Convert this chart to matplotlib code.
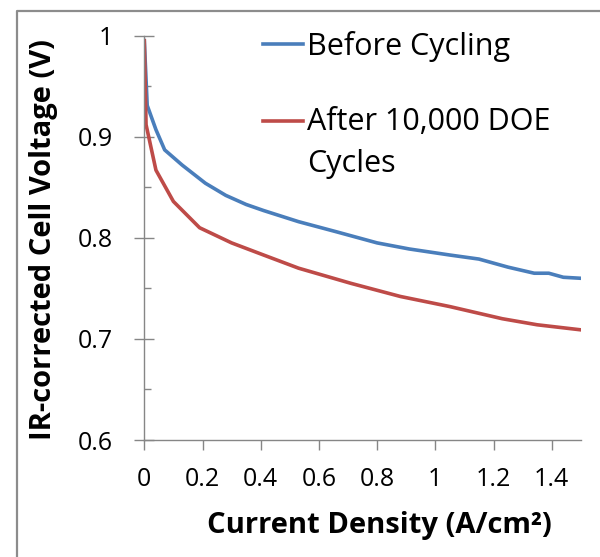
import matplotlib
matplotlib.use("Agg")
import matplotlib.pyplot as plt
from matplotlib.lines import Line2D
from matplotlib.ticker import MultipleLocator

# polarisation curves, current density in A/cm2, voltage in V
before_j = [0, 0.01, 0.04, 0.07, 0.13, 0.21, 0.28, 0.35, 0.41, 0.53, 0.66,
            0.80, 0.91, 1.05, 1.15, 1.25, 1.34, 1.39, 1.44, 1.5]
before_v = [0.995, 0.931, 0.907, 0.887, 0.872, 0.854, 0.842, 0.833, 0.827,
            0.816, 0.806, 0.795, 0.789, 0.783, 0.779, 0.771, 0.765, 0.765,
            0.761, 0.760]

after_j = [0, 0.006, 0.04, 0.1, 0.19, 0.3, 0.41, 0.53, 0.71, 0.88, 1.05,
           1.23, 1.35, 1.5]
after_v = [0.995, 0.912, 0.867, 0.836, 0.81, 0.795, 0.783, 0.770, 0.755,
           0.742, 0.732, 0.720, 0.714, 0.709]

labels = ["Before Cycling", "After 10,000 DOE\nCycles"]
xticks = [0, 0.2, 0.4, 0.6, 0.8, 1.0, 1.2, 1.4]
xticklabels = ["0", "0.2", "0.4", "0.6", "0.8", "1", "1.2", "1.4"]
yticks = [0.6, 0.7, 0.8, 0.9, 1.0]
yticklabels = ["0.6", "0.7", "0.8", "0.9", "1"]

blue = "#4a7ebb"
red = "#be4b48"
grey = "#868686"

plt.rcParams["font.family"] = ["Open Sans", "DejaVu Sans"]

fig = plt.figure(figsize=(6, 5.57), dpi=100)
ax = fig.add_axes([0.2405, 0.21, 0.7275, 0.726])

ax.plot(before_j, before_v, color=blue, lw=2.6, solid_joinstyle="round")
ax.plot(after_j, after_v, color=red, lw=2.6, solid_joinstyle="round")

ax.set_xlim(0, 1.5)
ax.set_ylim(0.6, 1.0)
ax.set_xticks(xticks)
ax.set_xticklabels(xticklabels)
ax.set_yticks(yticks)
ax.set_yticklabels(yticklabels)
ax.yaxis.set_minor_locator(MultipleLocator(0.05))

for s in ["top", "right"]:
    ax.spines[s].set_visible(False)
for s in ["left", "bottom"]:
    ax.spines[s].set_color(grey)
    ax.spines[s].set_linewidth(1.0)

ax.tick_params(axis="x", direction="out", length=7.5, width=1.0, color=grey,
               labelsize=18, pad=12)
ax.tick_params(axis="y", which="major", direction="inout", length=14,
               width=1.0, color=grey, labelsize=18, pad=15.5)
ax.tick_params(axis="y", which="minor", direction="in", length=5,
               width=1.0, color=grey)

ax.set_xlabel("Current Density (A/cm²)", fontsize=21, fontweight="bold")
ax.set_ylabel("IR-corrected Cell Voltage (V)", fontsize=21,
              fontweight="bold")
ax.xaxis.set_label_coords(0.539, -0.176)
ax.yaxis.set_label_coords(-0.197, 0.495)

# legend drawn by hand so the handle sits on the first text line
leg_line_y = [44, 121]
leg_text_y = [55, 130]
line_step = 41.7
for ly, ty, c, lab in zip(leg_line_y, leg_text_y, [blue, red], labels):
    fig.add_artist(Line2D([263 / 600, 303 / 600], [1 - ly / 557] * 2,
                          color=c, lw=2.6, transform=fig.transFigure))
    for i, part in enumerate(lab.split("\n")):
        fig.text(307 / 600, 1 - (ty + i * line_step) / 557, part,
                 fontsize=22, va="baseline", ha="left")

# outer frame of the chart area
fig.add_artist(Line2D([17 / 600, 17 / 600, 1], [0, 1 - 11 / 557, 1 - 11 / 557],
                      color="#8c8c8c", lw=1.6, transform=fig.transFigure))

fig.savefig("out.png", dpi=100)
